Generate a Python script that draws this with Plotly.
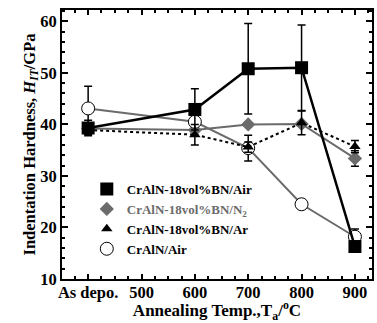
import plotly.graph_objects as go

temps = [400, 600, 700, 800, 900]
tick_vals = [400, 500, 600, 700, 800, 900]
tick_text = ["As depo.", "500", "600", "700", "800", "900"]

air_bn = [39.3, 42.9, 50.8, 51.0, 16.3]
air_bn_err = [1.5, 4.0, 8.8, 8.3, 0.0]

n2_bn = [39.2, 38.9, 40.0, 40.1, 33.4]
n2_bn_err = [0.0, 0.0, 0.0, 0.0, 1.5]

ar_bn = [38.9, 38.0, 35.6, 40.3, 35.7]
ar_bn_err = [0.8, 2.0, 1.0, 2.3, 1.2]

air_crain = [43.1, 40.5, 35.4, 24.5, 18.2]
air_crain_err = [4.3, 0.0, 2.5, 0.0, 1.5]

names = ["CrAlN-18vol%BN/Air",
         "<span style='color:#6b6b6b'>CrAlN-18vol%BN/N<sub>2</sub></span>",
         "CrAlN-18vol%BN/Ar", "CrAlN/Air"]

GREY = "#6b6b6b"
styles = [
    dict(line=dict(color="black", width=2.5), marker=dict(symbol="square", size=13, color="black")),
    dict(line=dict(color=GREY, width=2), marker=dict(symbol="diamond", size=11, color=GREY)),
    dict(line=dict(color="black", width=2, dash="dot"), marker=dict(symbol="triangle-up", size=10, color="black")),
    dict(line=dict(color=GREY, width=2), marker=dict(symbol="circle", size=13, color="white", line=dict(color="black", width=1))),
]
series = [air_bn, n2_bn, ar_bn, air_crain]
errs = [air_bn_err, n2_bn_err, ar_bn_err, air_crain_err]
draw_order = [1, 3, 2, 0]

fig = go.Figure()
for i in draw_order:
    fig.add_trace(go.Scatter(
        x=temps, y=series[i], mode="lines+markers", showlegend=False,
        line=styles[i]["line"], marker=styles[i]["marker"],
        error_y=dict(type="data", array=errs[i], color="black", thickness=1.5, width=4),
    ))
# legend entries: markers only
for i in range(4):
    fig.add_trace(go.Scatter(
        x=[None], y=[None], mode="markers", name=names[i],
        marker=styles[i]["marker"], legendrank=i + 1,
    ))

fig.update_layout(
    width=377, height=323,
    margin=dict(l=62, r=5, t=10, b=44),
    plot_bgcolor="white", paper_bgcolor="white",
    font=dict(family="Liberation Serif, serif", color="black"),
    showlegend=True,
    legend=dict(
        x=0.08, y=0.39, xanchor="left", yanchor="top",
        bgcolor="rgba(0,0,0,0)", borderwidth=0,
        font=dict(family="Liberation Serif, serif", size=13, color="black", weight="bold"),
        itemwidth=30, tracegroupgap=0,
    ),
)

fig.update_xaxes(
    range=[351, 932], automargin=False,
    tickmode="array", tickvals=tick_vals, ticktext=tick_text,
    tickfont=dict(size=16.5, weight="bold", family="Liberation Serif, serif"),
    ticklabelstandoff=-3,
    ticks="inside", ticklen=5, tickwidth=1.5, tickcolor="black",
    minor=dict(ticks="inside", ticklen=3, dtick=25, tick0=0, tickcolor="black", tickwidth=1.5),
    showline=True, linewidth=2, linecolor="black", mirror="allticks",
    showgrid=False, zeroline=False,
    title=dict(text="Annealing Temp.,T<sub>a</sub>/<sup>o</sup>C", standoff=7,
               font=dict(size=17, weight="bold", family="Liberation Serif, serif")),
)
fig.update_yaxes(
    range=[10, 62.2], automargin=False,
    tickmode="array", tickvals=[10, 20, 30, 40, 50, 60],
    tickfont=dict(size=16.5, weight="bold", family="Liberation Serif, serif"),
    ticks="inside", ticklen=6, tickwidth=1.5, tickcolor="black",
    minor=dict(ticks="inside", ticklen=3, dtick=2, tick0=0, tickcolor="black", tickwidth=1.5),
    showline=True, linewidth=2, linecolor="black", mirror="allticks",
    showgrid=False, zeroline=False,
    title=dict(text="Indentation Hardness, <i>H</i><sub><i>IT</i></sub>/GPa", standoff=0,
               font=dict(size=16.5, weight="bold", family="Liberation Serif, serif")),
)

fig.write_html("out.html", config={"displayModeBar": False},
               post_script="document.body.style.margin='0';document.body.style.overflow='hidden';")
